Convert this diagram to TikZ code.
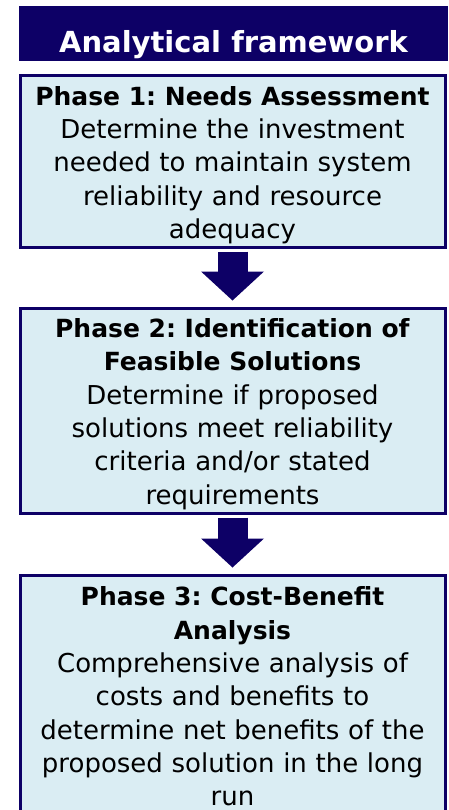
\documentclass[tikz,border=0pt]{standalone}
\usepackage{fontspec}
\setmainfont{DejaVu Sans}
\usetikzlibrary{arrows.meta}
\definecolor{navy}{RGB}{13,0,102}
\definecolor{paleblue}{RGB}{218,237,243}
\newcommand{\phasehead}[1]{\rule{0pt}{26pt}\textbf{\fontsize{25}{33.3}\selectfont #1}}
\tikzset{
	phasebox/.style={draw=navy, line width=3pt, fill=paleblue, minimum width=425pt,
		text width=420pt, align=center, inner sep=0pt,
		font=\fontsize{26}{33.3}\selectfont\frenchspacing},
	flowarrow/.style={draw=navy, line width=30pt,
		-{Triangle[width=63pt,length=29pt,line width=0pt]}, shorten <=3pt, shorten >=6pt}
}
\begin{document}
\begin{tikzpicture}[x=1pt,y=-1pt]
		\useasboundingbox ( 0, 0 ) rectangle ( 448, 810 );

		% title bar
		\node (title) [fill=navy, minimum width=429pt, minimum height=55pt, inner sep=0pt,
			text height=47pt, text depth=8pt, text=white,
			font=\fontsize{29}{36}\selectfont\bfseries] at ( 233.5, 33.5 ) {Analytical framework};

		% phase 1
		\node (phase1) [phasebox, minimum height=171pt] at ( 232.5, 161.5 )
			{\phasehead{Phase 1: Needs Assessment}\\Determine the investment\\needed to maintain system\\reliability and resource\\adequacy};

		% phase 2
		\node (phase2) [phasebox, minimum height=205pt] at ( 232.5, 410.5 )
			{\phasehead{Phase 2: Identification of}\\\phasehead{Feasible Solutions}\\Determine if proposed\\solutions meet reliability\\criteria and/or stated\\requirements};

		% phase 3
		\node (phase3) [phasebox, minimum height=236pt] at ( 232.5, 693 )
			{\phasehead{Phase 3: Cost-Benefit}\\\phasehead{Analysis}\\Comprehensive analysis of\\costs and benefits to\\determine net benefits of the\\proposed solution in the long\\run};

		% arrows
		\draw [flowarrow] (phase1) -- (phase2);
		\draw [flowarrow] (phase2) -- (phase3);
	\end{tikzpicture}
\end{document}
